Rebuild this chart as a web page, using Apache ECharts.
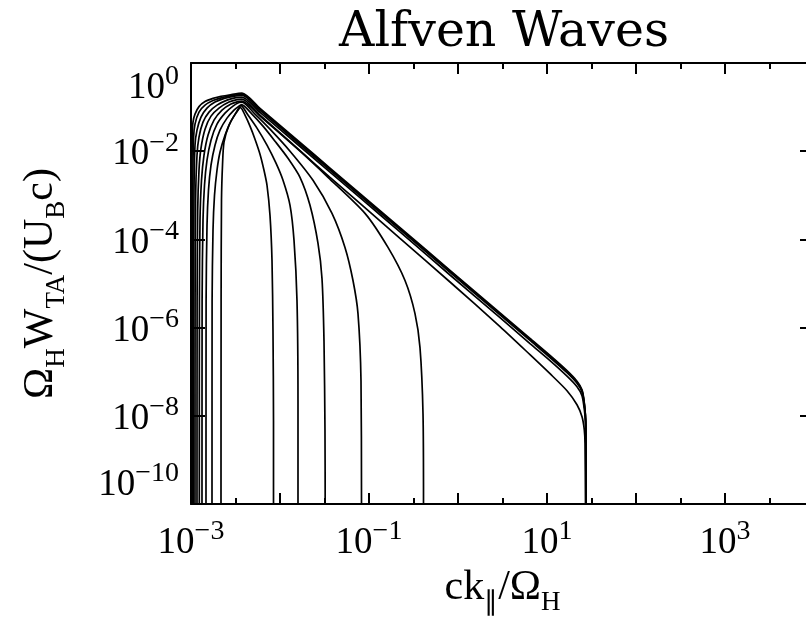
<!DOCTYPE html>
<html><head><meta charset="utf-8">
<script src="https://cdn.jsdelivr.net/npm/echarts@6/dist/echarts.min.js"></script>
<style>html,body{margin:0;padding:0;background:#fff}#c{width:806px;height:623px}</style>
</head><body><div id="c"></div>
<script>
// Each curve: [ck_par/Omega_H, Omega_H W_TA/(U_B c)] pairs
const curve0 = [[1.013e-3,1e-10],[1.016e-3,4.11e-6],[1.021e-3,2.19e-3],[1.034e-3,0.0231],[1.053e-3,0.0456],[1.109e-3,0.0693],[1.230e-3,0.1026],[1.437e-3,0.1334],[1.767e-3,0.1577],[2.117e-3,0.1732],[2.673e-3,0.1874],[3.741e-3,0.2080],[5.960e-3,0.0934],[0.0100,0.0384],[0.01678,0.01577],[0.03645,4.15e-3],[0.07924,1.093e-3],[0.2230,1.845e-4],[0.8131,1.995e-5],[2.965,2.158e-6],[6.442,5.68e-7],[10.81,2.334e-7],[16.78,1.054e-7],[21.73,6.08e-8],[24.74,3.90e-8],[26.25,1.974e-8],[27.21,7.70e-9],[27.43,1.602e-9],[27.43,1e-10]];
const curve1 = [[1.040e-3,1e-10],[1.042e-3,4.11e-6],[1.050e-3,2.19e-3],[1.067e-3,0.0197],[1.109e-3,0.0411],[1.230e-3,0.0770],[1.437e-3,0.1110],[1.767e-3,0.1405],[2.230e-3,0.1644],[2.888e-3,0.1825],[3.741e-3,0.1974],[5.960e-3,0.0887],[0.01678,0.01497],[0.07924,1.038e-3],[0.8131,1.894e-5],[6.442,5.39e-7],[10.81,2.22e-7],[16.78,1.0e-7],[21.73,5.77e-8],[24.74,3.70e-8],[26.25,1.874e-8],[27.21,7.31e-9],[27.43,1e-10]];
const curve2 = [[1.067e-3,1e-10],[1.069e-3,4.11e-6],[1.081e-3,1.30e-3],[1.109e-3,0.0137],[1.168e-3,0.0300],[1.295e-3,0.0593],[1.513e-3,0.0949],[1.861e-3,0.1299],[2.410e-3,0.1602],[3.121e-3,0.1778],[3.741e-3,0.1874],[5.960e-3,0.0841],[0.01678,0.01420],[0.07924,9.84e-4],[0.8131,1.796e-5],[6.442,5.11e-7],[10.81,2.10e-7],[16.78,9.49e-8],[21.73,5.47e-8],[24.74,3.51e-8],[26.38,1.688e-8],[27.21,6.93e-9],[27.43,1e-10]];
const curve3 = [[1.109e-3,1e-10],[1.112e-3,4.11e-6],[1.126e-3,7.70e-4],[1.168e-3,8.11e-3],[1.230e-3,0.0208],[1.364e-3,0.0456],[1.593e-3,0.0770],[1.959e-3,0.1110],[2.538e-3,0.1442],[3.202e-3,0.1644],[3.741e-3,0.1688],[5.960e-3,0.0757],[0.01678,0.01279],[0.07924,8.86e-4],[0.2230,1.481e-4],[0.8131,1.560e-5],[2.965,1.688e-6],[6.442,4.33e-7],[10.81,1.778e-7],[16.78,7.90e-8],[21.73,4.56e-8],[24.74,2.85e-8],[26.38,1.299e-8],[27.21,5.93e-9],[27.43,1e-10]];
const curve4 = [[1.168e-3,1e-10],[1.171e-3,4.11e-6],[1.189e-3,4.56e-4],[1.230e-3,3.70e-3],[1.295e-3,0.0117],[1.437e-3,0.0316],[1.678e-3,0.0624],[2.063e-3,0.0949],[2.673e-3,0.1299],[3.287e-3,0.1481],[3.741e-3,0.1520],[5.960e-3,0.0658],[0.01678,0.01026],[0.03645,2.56e-3],[0.07924,6.58e-4],[0.2230,1.054e-4],[0.8131,1.082e-5],[2.965,1.054e-6],[6.442,2.434e-7],[10.81,9.01e-8],[16.78,3.70e-8],[21.73,1.778e-8],[24.74,9.49e-9],[26.25,4.81e-9],[26.73,2.434e-9],[27.07,1e-10]];
const curve5 = [[1.239e-3,1e-10],[1.243e-3,4.11e-6],[1.262e-3,2.70e-4],[1.312e-3,2.19e-3],[1.400e-3,8.11e-3],[1.552e-3,0.0231],[1.813e-3,0.0506],[2.230e-3,0.0855],[2.814e-3,0.1170],[3.373e-3,0.1334],[3.741e-3,0.1369],[5.960e-3,0.0624],[0.01678,0.0100],[0.03461,2.56e-3],[0.09018,3.90e-4],[0.1635,6.58e-5],[0.2538,1.17e-5],[0.3287,2.08e-6],[0.3741,3.51e-7],[0.4044,1.110e-8],[0.4097,1e-10]];
const curve6 = [[1.329e-3,1e-10],[1.333e-3,4.11e-6],[1.364e-3,2.70e-4],[1.418e-3,1.69e-3],[1.513e-3,6.24e-3],[1.678e-3,0.0178],[1.959e-3,0.0411],[2.410e-3,0.0731],[2.963e-3,0.1054],[3.461e-3,0.1266],[3.741e-3,0.1299],[5.237e-3,0.0693],[7.721e-3,0.0316],[0.01296,0.0100],[0.02348,2.19e-3],[0.03839,3.90e-4],[0.05373,6.58e-5],[0.06609,1.17e-5],[0.07521,2.08e-6],[0.08130,6.24e-8],[0.08236,1e-10]];
const curve7 = [[1.474e-3,1e-10],[1.478e-3,4.11e-6],[1.513e-3,2.08e-4],[1.572e-3,1.30e-3],[1.678e-3,4.81e-3],[1.861e-3,0.0137],[2.117e-3,0.0300],[2.538e-3,0.0562],[3.041e-3,0.0855],[3.461e-3,0.1054],[3.693e-3,0.1139],[4.845e-3,0.0693],[6.442e-3,0.0370],[8.787e-3,0.01688],[0.01230,6.93e-3],[0.01678,2.56e-3],[0.02173,5.93e-4],[0.02673,8.11e-5],[0.02963,1.299e-5],[0.03121,5.07e-7],[0.03202,4.56e-9],[0.03219,1e-10]];
const curve8 = [[1.722e-3,1e-10],[1.726e-3,4.11e-6],[1.767e-3,1.60e-4],[1.837e-3,1.0e-3],[1.959e-3,3.70e-3],[2.117e-3,9.49e-3],[2.410e-3,0.0231],[2.814e-3,0.0481],[3.287e-3,0.0811],[3.645e-3,0.1082],[4.369e-3,0.0658],[5.514e-3,0.0333],[7.144e-3,0.0137],[9.018e-3,5.34e-3],[0.01081,2.19e-3],[0.01296,5.93e-4],[0.01437,9.49e-5],[0.01552,4.11e-6],[0.01593,2.19e-8],[0.01593,1e-10]];
const curve9 = [[2.173e-3,1e-10],[2.179e-3,4.11e-6],[2.201e-3,7.70e-4],[2.259e-3,4.81e-3],[2.348e-3,0.0160],[2.673e-3,0.0390],[3.202e-3,0.0731],[3.598e-3,0.0974],[4.044e-3,0.0658],[4.601e-3,0.0370],[5.237e-3,0.0187],[5.960e-3,8.55e-3],[6.61e-3,3.70e-3],[7.144e-3,1.69e-3],[7.721e-3,3.51e-4],[8.131e-3,3.33e-5],[8.34e-3,8.55e-7],[8.453e-3,7.70e-9],[8.453e-3,1e-10]];

// Axis ranges (powers of ten) and labelled decades
const xDecadeMin = -3, xDecadeMax = 4;
const yDecadeMin = -10, yDecadeMax = 0;
const xLabelExponents = [-3, -1, 1, 3];
const yLabelExponents = [0, -2, -4, -6, -8, -10];
const titleText = 'Alfven Waves';

const curves = [curve0, curve1, curve2, curve3, curve4, curve5, curve6, curve7, curve8, curve9];

const SERIF = 'Liberation Serif';
const labelRich = {
  b: {fontFamily: SERIF, fontSize: 37, color: '#000', lineHeight: 44, verticalAlign: 'bottom'},
  s: {fontFamily: SERIF, fontSize: 28, color: '#000', verticalAlign: 'top'}
};
function powLabel(n) {
  return '{b|10}{s|' + (n < 0 ? '\u2212' : '') + Math.abs(n) + '}';
}
const nameRich = {
  m: {fontFamily: SERIF, fontSize: 42, color: '#000', lineHeight: 50, verticalAlign: 'top'},
  s: {fontFamily: SERIF, fontSize: 27, color: '#000', verticalAlign: 'bottom'}
};

const chart = echarts.init(document.getElementById('c'), null, {renderer: 'canvas'});
const axisLine = {show: true, onZero: false, lineStyle: {color: '#000', width: 2}};

chart.setOption({
  animation: false,
  backgroundColor: '#fff',
  title: {
    text: titleText, left: 334, top: 4,
    textStyle: {fontFamily: 'DejaVu Serif', fontSize: 49, fontWeight: 'normal', color: '#000'}
  },
  grid: {left: 191, top: 63, width: 623, height: 441, containLabel: false, outerBoundsMode: 'none'},
  xAxis: [{
    type: 'value', position: 'bottom', min: xDecadeMin, max: xDecadeMax, interval: 1,
    axisLine: axisLine,
    axisTick: {show: true, inside: true, length: 11, lineStyle: {color: '#000', width: 2}},
    minorTick: {show: true, splitNumber: 2, length: 6, lineStyle: {color: '#000', width: 2}},
    splitLine: {show: false},
    axisLabel: {
      show: true, margin: 14, rich: labelRich,
      formatter: v => { const n = Math.round(v); return xLabelExponents.indexOf(n) >= 0 ? powLabel(n) : ''; }
    },
    name: '{m|ck}{s|\u2225}{m|/\u03A9}{s|H}', nameLocation: 'middle', nameGap: 57,
    nameTextStyle: {rich: nameRich}
  }, {
    type: 'value', position: 'top', min: xDecadeMin, max: xDecadeMax, interval: 1,
    axisLine: axisLine,
    axisTick: {show: true, inside: true, length: 11, lineStyle: {color: '#000', width: 2}},
    minorTick: {show: true, splitNumber: 2, length: 6, lineStyle: {color: '#000', width: 2}},
    splitLine: {show: false}, axisLabel: {show: false}
  }],
  yAxis: [{
    type: 'value', position: 'left', min: yDecadeMin, max: yDecadeMax, interval: 2,
    axisLine: axisLine,
    axisTick: {show: true, inside: true, length: 14, lineStyle: {color: '#000', width: 2}},
    splitLine: {show: false},
    axisLabel: {
      show: true, margin: 12, rich: labelRich,
      verticalAlignMinLabel: 'bottom', verticalAlignMaxLabel: 'top',
      formatter: v => { const n = Math.round(v); return yLabelExponents.indexOf(n) >= 0 ? powLabel(n) : ''; }
    },
    name: '{m|\u03A9}{s|H}{m|W}{s|TA}{m|/(U}{s|B}{m|c)}', nameLocation: 'middle', nameRotate: 90, nameGap: 121,
    nameTextStyle: {rich: nameRich}
  }, {
    type: 'value', position: 'right', min: yDecadeMin, max: yDecadeMax, interval: 2,
    axisLine: axisLine,
    axisTick: {show: true, inside: true, length: 14, lineStyle: {color: '#000', width: 2}},
    splitLine: {show: false}, axisLabel: {show: false}
  }],
  series: curves.map((c, i) => ({
    type: 'line', name: 'curve ' + i, xAxisIndex: 0, yAxisIndex: 0,
    data: c.map(p => [Math.log10(p[0]), Math.log10(p[1])]),
    showSymbol: false, symbol: 'none', clip: true, silent: true, smooth: 0.25,
    lineStyle: {color: '#000', width: 1.7}
  }))
});
</script>
</body></html>
